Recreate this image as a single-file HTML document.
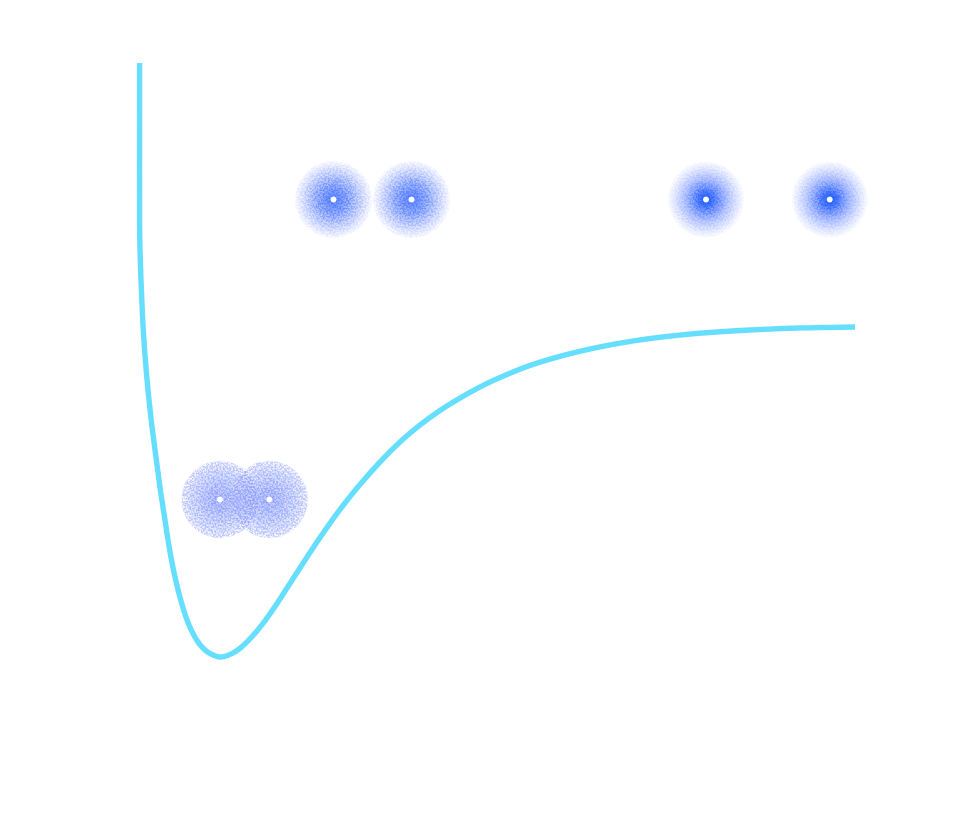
<!DOCTYPE html>
<html lang="en">
<head>
<meta charset="utf-8">
<title>Bond energy curve</title>
<style>
  html, body { margin: 0; padding: 0; background: #ffffff; }
  #chart { display: block; width: 975px; height: 828px; background: #ffffff; }
</style>
</head>
<body>
<svg id="chart" xmlns="http://www.w3.org/2000/svg" width="975" height="828" viewBox="0 0 975 828">
  <defs>
    <radialGradient id="cloud-bonded">
      <stop offset="0" stop-color="#7f92ff" stop-opacity="0.85"/>
      <stop offset="0.6" stop-color="#8a9cff" stop-opacity="0.65"/>
      <stop offset="0.97" stop-color="#98a6ff" stop-opacity="0.6"/>
      <stop offset="1" stop-color="#98a6ff" stop-opacity="0"/>
    </radialGradient>
    <radialGradient id="core-bonded">
      <stop offset="0" stop-color="#8095ff" stop-opacity="0.55"/>
      <stop offset="0.75" stop-color="#8095ff" stop-opacity="0.18"/>
      <stop offset="1" stop-color="#8095ff" stop-opacity="0"/>
    </radialGradient>
    <radialGradient id="cloud-near">
      <stop offset="0" stop-color="#4a74ff" stop-opacity="1"/>
      <stop offset="0.4" stop-color="#6288ff" stop-opacity="0.85"/>
      <stop offset="0.72" stop-color="#93a8ff" stop-opacity="0.55"/>
      <stop offset="1" stop-color="#b8c3ff" stop-opacity="0.2"/>
    </radialGradient>
    <radialGradient id="core-near">
      <stop offset="0" stop-color="#4a76ff" stop-opacity="0.9"/>
      <stop offset="0.45" stop-color="#6488ff" stop-opacity="0.5"/>
      <stop offset="1" stop-color="#8aa0ff" stop-opacity="0"/>
    </radialGradient>
    <radialGradient id="cloud-far">
      <stop offset="0" stop-color="#1455ff" stop-opacity="1"/>
      <stop offset="0.25" stop-color="#3e6eff" stop-opacity="1"/>
      <stop offset="0.55" stop-color="#8ba1ff" stop-opacity="0.6"/>
      <stop offset="1" stop-color="#c2ccff" stop-opacity="0.14"/>
    </radialGradient>
    <radialGradient id="core-far">
      <stop offset="0" stop-color="#0f50ff" stop-opacity="1"/>
      <stop offset="0.3" stop-color="#3d6eff" stop-opacity="0.65"/>
      <stop offset="1" stop-color="#8aa0ff" stop-opacity="0"/>
    </radialGradient>
    <filter id="speckle" x="-5%" y="-5%" width="110%" height="110%" color-interpolation-filters="sRGB">
      <feTurbulence type="fractalNoise" baseFrequency="0.6" numOctaves="2" seed="7" result="noise"/>
      <feColorMatrix in="noise" type="matrix" values="0 0 0 0 0  0 0 0 0 0  0 0 0 0 0  6 0 0 0 -2.5" result="mask"/>
      <feComposite in="SourceGraphic" in2="mask" operator="in"/>
    </filter>
  </defs>
  <g id="clouds"></g>
  <g id="curve"></g>
  <g id="nuclei"></g>
</svg>
<script>
// Curve data: internuclear distance (pm-like units) and energy (kJ/mol-like units)
const distances = [0.6, 0.6, 1, 1.8, 2.8, 4, 5.6, 7.6, 10, 12.8, 16, 21, 25.5, 30.5, 36, 43, 50, 58, 66, 74, 82, 92, 102, 112.7, 124.3, 136, 147.7, 159.3, 171, 181, 201, 221, 241, 261, 281, 301, 321, 341, 361, 391, 424, 458, 491, 524, 561, 611, 661, 716];
const energies = [352, 136, 102.7, 69.3, 36, 2.7, -30.7, -64, -97.3, -130.7, -164, -214, -253.3, -296, -333.3, -370, -397.3, -418, -430.7, -437.3, -440, -436, -427.3, -413.3, -394.7, -372.7, -348.7, -324.7, -300.7, -280.7, -243.3, -210, -180, -153.3, -130.7, -111.3, -94.7, -80, -67.3, -51.3, -38, -27.3, -19.3, -13.3, -8.3, -4, -1.3, 0];

// Atom states: nucleus positions on the same axes
const bondedNuclei = [81, 130.3];
const bondedEnergy = -230;
const nearNuclei = [194.5, 272.5];
const nearEnergy = 170;
const farNuclei = [567, 690.7];
const farEnergy = 170;

function xScale(r) { return 139 + r; }
function yScale(e) { return 327 - e * 0.75; }

const NS = 'http://www.w3.org/2000/svg';

function buildCurvePath() {
  const pts = distances.map(function (r, i) { return [xScale(r), yScale(energies[i])]; });
  function dist(a, b) { return Math.max(Math.hypot(a[0] - b[0], a[1] - b[1]), 0.001); }
  function tangent(i) {
    const a = pts[Math.max(i - 1, 0)];
    const b = pts[Math.min(i + 1, pts.length - 1)];
    const span = dist(a, b);
    return [(b[0] - a[0]) / span, (b[1] - a[1]) / span];
  }
  let d = 'M' + pts[0][0] + ' ' + pts[0][1];
  for (let i = 0; i < pts.length - 1; i++) {
    const p1 = pts[i];
    const p2 = pts[i + 1];
    const len = dist(p1, p2) / 3;
    const t1 = tangent(i);
    const t2 = tangent(i + 1);
    d += 'C' + (p1[0] + t1[0] * len).toFixed(2) + ' ' + (p1[1] + t1[1] * len).toFixed(2) + ' ' +
         (p2[0] - t2[0] * len).toFixed(2) + ' ' + (p2[1] - t2[1] * len).toFixed(2) + ' ' +
         p2[0].toFixed(2) + ' ' + p2[1].toFixed(2);
  }
  return d;
}

const curve = document.createElementNS(NS, 'path');


curve.setAttribute('d', buildCurvePath());
curve.setAttribute('fill', 'none');
curve.setAttribute('stroke', '#66deff');
curve.setAttribute('stroke-width', '5.4');
curve.setAttribute('stroke-linejoin', 'round');
document.getElementById('curve').appendChild(curve);

function drawAtom(r, e, cloudRadius, kind) {
  const core = document.createElementNS(NS, 'circle');
  
  
  core.setAttribute('cx', xScale(r));
  core.setAttribute('cy', yScale(e));
  core.setAttribute('r', cloudRadius);
  core.setAttribute('fill', 'url(#core-' + kind + ')');
  document.getElementById('clouds').appendChild(core);

  const cloud = document.createElementNS(NS, 'circle');
  
  
  cloud.setAttribute('cx', xScale(r));
  cloud.setAttribute('cy', yScale(e));
  cloud.setAttribute('r', cloudRadius);
  cloud.setAttribute('fill', 'url(#cloud-' + kind + ')');
  cloud.setAttribute('filter', 'url(#speckle)');
  document.getElementById('clouds').appendChild(cloud);

  const nucleus = document.createElementNS(NS, 'circle');
  
  
  nucleus.setAttribute('cx', xScale(r));
  nucleus.setAttribute('cy', yScale(e));
  nucleus.setAttribute('r', 3);
  nucleus.setAttribute('fill', '#ffffff');
  document.getElementById('nuclei').appendChild(nucleus);
}

bondedNuclei.forEach(function (r) { drawAtom(r, bondedEnergy, 39, 'bonded'); });
nearNuclei.forEach(function (r) { drawAtom(r, nearEnergy, 38.5, 'near'); });
farNuclei.forEach(function (r) { drawAtom(r, farEnergy, 38, 'far'); });
</script>
</body>
</html>
